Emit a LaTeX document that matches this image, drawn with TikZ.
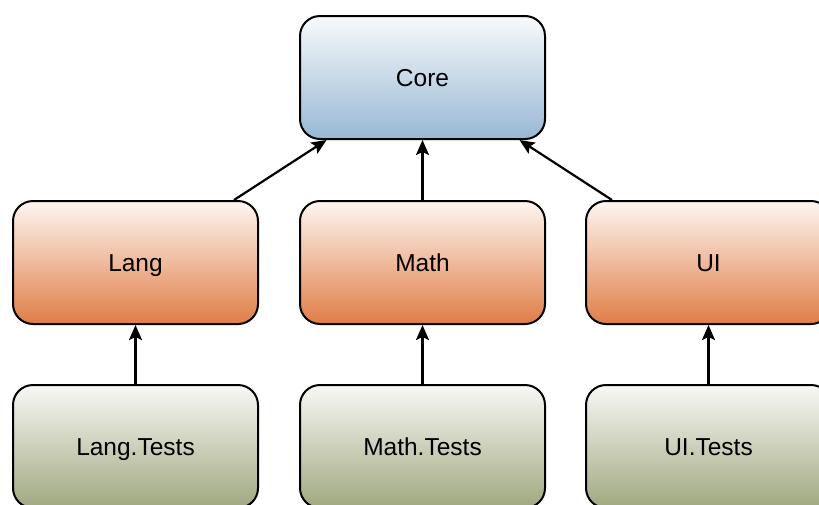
\documentclass[tikz,border=0pt]{standalone}
\usepackage{fontspec}
\setmainfont{Liberation Sans}
\usetikzlibrary{arrows.meta}
\definecolor{coreTop}{HTML}{F8FAFC}
\definecolor{coreBot}{HTML}{98B8D4}
\definecolor{modTop}{HTML}{FEF6F2}
\definecolor{modBot}{HTML}{E07D46}
\definecolor{testTop}{HTML}{F8F8F5}
\definecolor{testBot}{HTML}{A0A880}
\tikzset{
  box/.style={draw=black, line width=2pt, rounded corners=20pt,
    minimum width=245pt, minimum height=123pt, inner sep=0pt,
    text height=17pt, text depth=0pt,
    font=\fontsize{24.5}{28}\selectfont},
  corebox/.style={box, top color=coreTop, bottom color=coreBot},
  modbox/.style={box, top color=modTop, bottom color=modBot},
  testbox/.style={box, top color=testTop, bottom color=testBot},
  dep/.style={draw=black, line width=2.2pt, -{Stealth[length=15pt,width=13pt,inset=3pt]}}
}
\begin{document}
\begin{tikzpicture}[x=1pt,y=-1pt]
\useasboundingbox (0,0) rectangle (819,504);
\clip (0,0) rectangle (819,504);
\node[corebox] (core) at (422.5,77.5) {Core};
\node[modbox] (lang) at (135.5,262.5) {Lang};
\node[modbox] (math) at (422.5,262.5) {Math};
\node[modbox] (ui) at (708.5,262.5) {UI};
\node[testbox] (langt) at (135.5,446.5) {Lang.Tests};
\node[testbox] (matht) at (422.5,446.5) {Math.Tests};
\node[testbox] (uit) at (708.5,446.5) {UI.Tests};
\draw[dep] ([xshift=-25pt]lang.north east) -- ([xshift=-96pt]core.south);
\draw[dep] (math.north) -- (core.south);
\draw[dep] ([xshift=27pt]ui.north west) -- ([xshift=97pt]core.south);
\draw[dep] (langt.north) -- (lang.south);
\draw[dep] (matht.north) -- (math.south);
\draw[dep] (uit.north) -- (ui.south);
\end{tikzpicture}
\end{document}
